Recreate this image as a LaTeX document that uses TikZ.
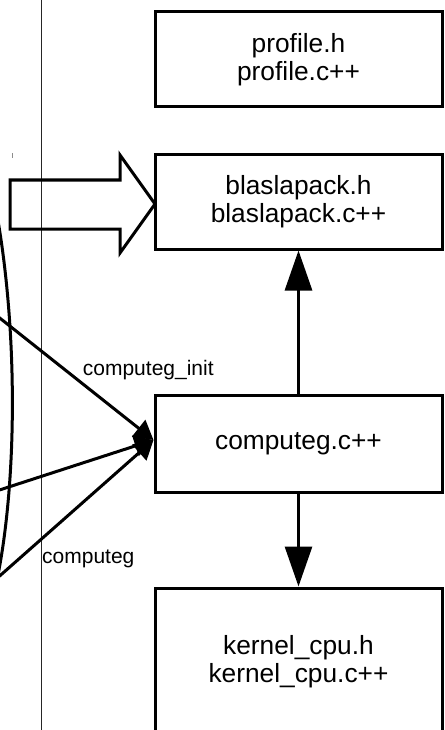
\documentclass[tikz,border=0pt]{standalone}
\usepackage{fontspec}
\setmainfont{Liberation Sans}
\usetikzlibrary{arrows.meta}
\begin{document}
\begin{tikzpicture}[x=1pt,y=-1pt,
  filebox/.style={draw=black,line width=3pt,minimum width=287pt,inner sep=0pt,
    align=center,font=\fontsize{26.3}{28}\selectfont},
  bigarrow/.style={line width=3pt,-{Triangle[length=40pt,width=27pt]}},
  callarrow/.style={line width=3pt,-{Triangle[length=19pt,width=21pt]}},
  lbl/.style={anchor=base west,inner sep=0pt,font=\fontsize{21}{24}\selectfont}]
\useasboundingbox (0,0) rectangle (444,730);
\clip (0,0) rectangle (444,730);
\fill[white] (0,0) rectangle (444,730);
% thin vertical line
\draw[black!85,line width=0.9pt] (41,-5) -- (41,735);
% tiny mark
\draw[black!45,line width=0.8pt] (12,153.5) -- (12,158);
% boxes
\node[filebox,minimum height=95pt] (profile) at (298.5,59.5) {profile.h\\profile.c++};
\node[filebox,minimum height=94pt] (blas) at (298.5,202) {blaslapack.h\\blaslapack.c++};
\node[filebox,minimum height=97pt] (computeg) at (298.5,443.5) {computeg.c++};
\node[filebox,minimum height=148pt] (kernel) at (298.5,662) {kernel\_cpu.h\\kernel\_cpu.c++};
% block arrow
\draw[line width=3pt,line join=miter] (10,180) -- (120,180) -- (120,155) -- (155,204)
  -- (120,253) -- (120,229) -- (10,229) -- cycle;
% left arc
\draw[line width=3pt] (-3,215) .. controls (17.5,330) and (17.5,480) .. (-3,580);
% vertical arrows
\draw[bigarrow] (computeg.north) -- (blas.south);
\draw[bigarrow] (computeg.south) -- (kernel.north);
% incoming call arrows
\coordinate (s1) at (-40,286.5);
\coordinate (s2) at (-40,502.8);
\coordinate (s3) at (-40,611);
\coordinate (t) at ([yshift=3.5pt]computeg.west);
\draw[callarrow] (s1) -- (t);
\draw[callarrow] (s2) -- (t);
\draw[callarrow] (s3) -- (t);
% labels
\node[lbl] (linit) at (82.7,375) {computeg\_init};
\node[lbl] (lcomp) at (42,563) {computeg};
\end{tikzpicture}
\end{document}
